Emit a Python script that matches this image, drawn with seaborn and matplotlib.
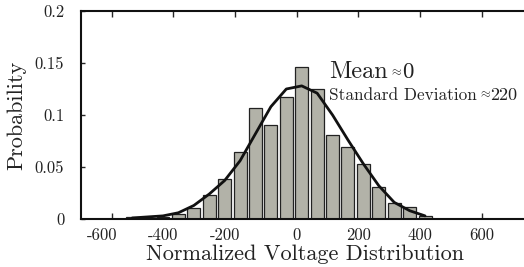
import matplotlib
matplotlib.use('Agg')
import matplotlib.pyplot as plt
import matplotlib.transforms as mtrans
import seaborn as sns

# bin centres and histogram probabilities
centers = [-534, -484, -434, -384, -334, -284, -234, -184, -134, -84,
           -34, 16, 66, 116, 166, 216, 266, 316, 366, 416]
probs = [0.002, 0.001, 0.002, 0.005, 0.011, 0.023, 0.038, 0.064, 0.107, 0.090,
         0.117, 0.146, 0.125, 0.081, 0.069, 0.053, 0.031, 0.015, 0.0115, 0.003]
# fitted curve sampled at the same centres
fit = [0.001, 0.002, 0.003, 0.006, 0.013, 0.024, 0.037, 0.056, 0.082, 0.108,
       0.125, 0.128, 0.121, 0.100, 0.076, 0.053, 0.032, 0.016, 0.008, 0.003]
xticks = [-600, -400, -200, 0, 200, 400, 600]
yticks = [0, 0.05, 0.1, 0.15, 0.2]
ylabels = ['0', '0.05', '0.1', '0.15', '0.2']

sns.set_style('ticks')
plt.rcParams['font.family'] = ['cmr10', 'DejaVu Serif']
plt.rcParams['mathtext.fontset'] = 'cm'
plt.rcParams['axes.unicode_minus'] = False

W, H = 524, 267
fig = plt.figure(figsize=(W / 100, H / 100), dpi=100)
ax = fig.add_axes([81 / W, 48 / H, 447 / W, 208 / H])

sns.barplot(x=centers, y=probs, native_scale=True, width=0.84,
            color='#b4b4a6', edgecolor='#222222', linewidth=0.9, ax=ax)
sns.lineplot(x=centers, y=fit, color='#111111', linewidth=2, ax=ax)

ax.set_xlim(-700, 750)
ax.set_ylim(0, 0.2)
ax.set_xticks(xticks)
ax.set_xticklabels([str(t) for t in xticks])
ax.set_yticks(yticks)
ax.set_yticklabels(ylabels)
ax.tick_params(axis='x', direction='in', top=True, length=4, width=1,
               labelsize=12, pad=6, labelcolor='#222222')
ax.tick_params(axis='y', direction='in', length=3, width=1,
               labelsize=12, pad=12, labelcolor='#222222')
for s in ['left', 'bottom', 'top']:
    ax.spines[s].set_linewidth(1.5)
    ax.spines[s].set_color('#111111')
ax.spines['right'].set_visible(False)

# negative labels sit a little left of their ticks in the original
shift = mtrans.ScaledTranslation(-10 / 100, 0, fig.dpi_scale_trans)
for t, lab in zip(xticks, ax.get_xticklabels()):
    if t < 0:
        lab.set_transform(lab.get_transform() + shift)

ax.set_xlabel('Normalized Voltage Distribution', fontsize=16, labelpad=1,
              color='#222222')
ax.set_ylabel('Probability', fontsize=16, labelpad=6, color='#222222')

c = '#222222'
fig.text(329 / W, 1 - 78 / H, 'Mean', fontsize=17.5, color=c, va='baseline')
fig.text(389 / W, 1 - 75 / H, r'$\approx$', fontsize=9, color=c, va='baseline')
fig.text(402 / W, 1 - 78 / H, '0', fontsize=16.5, color=c, va='baseline')
fig.text(329 / W, 1 - 100 / H, 'Standard Deviation', fontsize=12.4, color=c,
         va='baseline')
fig.text(478 / W, 1 - 97 / H, r'$\approx$', fontsize=9, color=c, va='baseline')
fig.text(490 / W, 1 - 100 / H, '220', fontsize=13, color=c, va='baseline')

fig.savefig('out.png', dpi=100)
